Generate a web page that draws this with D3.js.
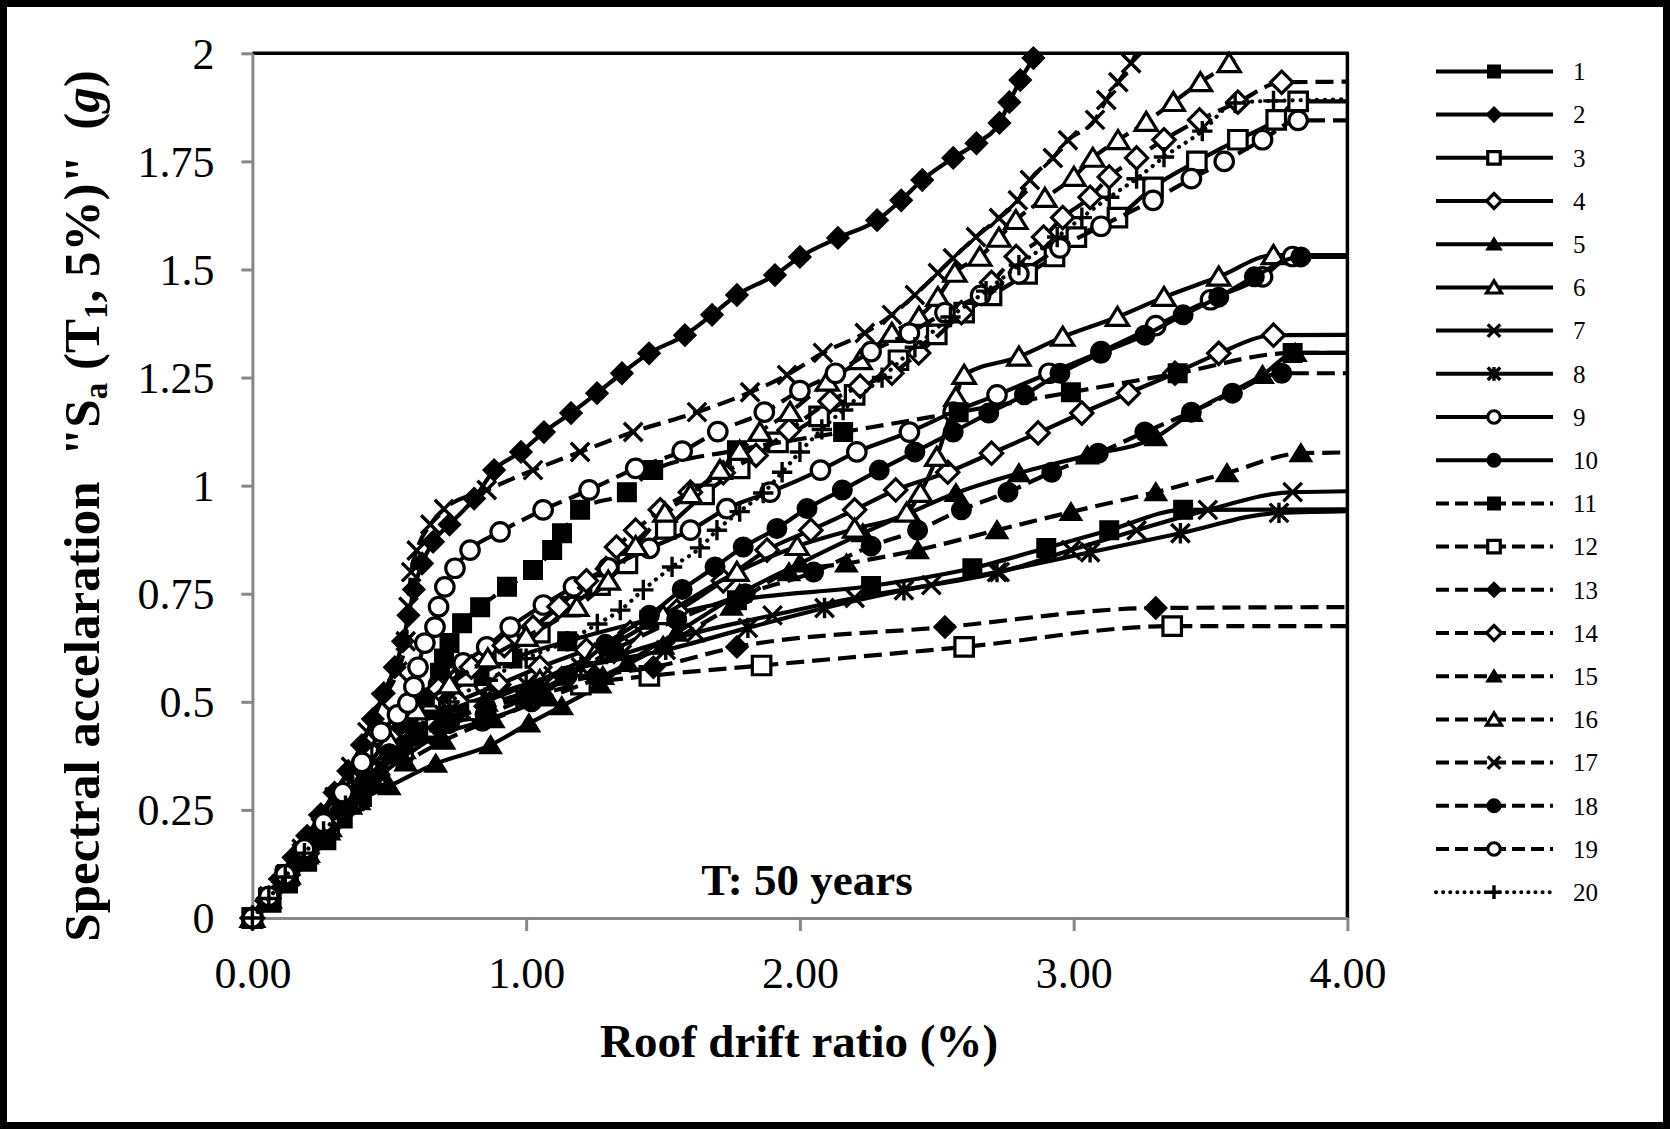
<!DOCTYPE html>
<html lang="en">
<head>
  <meta charset="UTF-8">
  <title>IDA curves</title>
  <script src="https://d3js.org/d3.v7.min.js"></script>
  <style>
    body { margin: 0; background: #fff; }
    text { font-family: "Liberation Serif", "Times New Roman", serif; fill: #000; }
  </style>
</head>
<body>
  <div id="chart"></div>

  <script>
    // record numbers and axis ticks
    const seriesNames = ["1","2","3","4","5","6","7","8","9","10","11","12","13","14","15","16","17","18","19","20"];
    const xTicks = [0, 1, 2, 3, 4];
    const yTicks = [0, 0.25, 0.5, 0.75, 1, 1.25, 1.5, 1.75, 2];

    // [roof drift ratio %, Sa g] per record
    const s1 = [[0,0],[0.07,0.035],[0.13,0.08],[0.2,0.13],[0.27,0.18],[0.33,0.23],[0.4,0.28],[0.46,0.33],[0.52,0.38],[0.58,0.42],[0.64,0.47],[0.72,0.52],[0.82,0.56],[0.95,0.6],[1.15,0.64],[1.45,0.69],[1.77,0.735],[2.26,0.768],[2.63,0.809],[2.9,0.856],[3.13,0.897],[3.4,0.944],[4.6,0.946]];
    const s2 = [[0,0],[0.05,0.04],[0.1,0.09],[0.15,0.14],[0.2,0.19],[0.25,0.24],[0.3,0.29],[0.35,0.34],[0.4,0.4],[0.44,0.46],[0.48,0.52],[0.52,0.58],[0.55,0.64],[0.57,0.7],[0.59,0.76],[0.62,0.82],[0.66,0.87],[0.72,0.91],[0.81,0.97],[0.883,1.036],[0.981,1.078],[1.065,1.124],[1.164,1.168],[1.259,1.214],[1.35,1.26],[1.449,1.306],[1.58,1.348],[1.679,1.395],[1.77,1.441],[1.909,1.487],[2.0,1.529],[2.139,1.573],[2.282,1.614],[2.37,1.66],[2.447,1.707],[2.56,1.758],[2.645,1.792],[2.729,1.839],[2.765,1.887],[2.805,1.938],[2.853,1.989],[2.9,2.05]];
    const s3 = [[0,0],[0.06,0.04],[0.12,0.09],[0.19,0.14],[0.26,0.2],[0.33,0.26],[0.4,0.32],[0.47,0.38],[0.55,0.44],[0.65,0.5],[0.78,0.56],[0.92,0.61],[1.05,0.66],[1.16,0.72],[1.27,0.77],[1.37,0.82],[1.51,0.9],[1.65,0.98],[1.78,1.04],[1.92,1.1],[2.07,1.16],[2.2,1.21],[2.36,1.29],[2.5,1.35],[2.6,1.4],[2.7,1.44],[2.83,1.49],[2.93,1.53],[3.01,1.575],[3.16,1.62],[3.29,1.69],[3.45,1.75],[3.6,1.8],[3.74,1.846],[3.82,1.889],[4.6,1.889]];
    const s4 = [[0,0],[0.06,0.045],[0.13,0.1],[0.2,0.15],[0.28,0.21],[0.36,0.27],[0.44,0.33],[0.52,0.39],[0.62,0.45],[0.75,0.5],[0.9,0.54],[1.05,0.58],[1.22,0.62],[1.38,0.66],[1.55,0.71],[1.72,0.78],[1.88,0.851],[2.04,0.897],[2.2,0.944],[2.35,0.99],[2.54,1.031],[2.7,1.075],[2.87,1.122],[3.03,1.168],[3.2,1.214],[3.37,1.26],[3.53,1.306],[3.73,1.348],[4.6,1.35]];
    const s5 = [[0,0],[0.06,0.04],[0.12,0.085],[0.18,0.13],[0.25,0.18],[0.32,0.23],[0.39,0.27],[0.5,0.305],[0.67,0.357],[0.87,0.4],[1.01,0.45],[1.13,0.49],[1.27,0.54],[1.37,0.59],[1.55,0.66],[1.78,0.75],[2.0,0.82],[2.23,0.89],[2.4,0.937],[2.57,0.983],[2.8,1.029],[3.05,1.07],[3.3,1.112],[3.43,1.168],[3.69,1.256],[3.81,1.307],[4.6,1.307]];
    const s6 = [[0,0],[0.06,0.045],[0.13,0.1],[0.2,0.15],[0.28,0.21],[0.36,0.27],[0.45,0.33],[0.55,0.39],[0.68,0.45],[0.85,0.5],[1.05,0.55],[1.25,0.61],[1.5,0.7],[1.77,0.8],[1.99,0.86],[2.2,0.9],[2.39,0.937],[2.44,0.983],[2.5,1.066],[2.57,1.205],[2.6,1.256],[2.8,1.298],[2.96,1.344],[3.16,1.39],[3.33,1.436],[3.53,1.483],[3.73,1.533],[4.6,1.533]];
    const s7 = [[0,0],[0.06,0.045],[0.12,0.09],[0.19,0.14],[0.26,0.2],[0.33,0.26],[0.4,0.32],[0.48,0.38],[0.58,0.43],[0.72,0.48],[0.9,0.52],[1.1,0.56],[1.35,0.61],[1.62,0.66],[1.9,0.7],[2.2,0.74],[2.48,0.77],[2.73,0.8],[2.99,0.851],[3.23,0.897],[3.49,0.944],[3.8,0.985],[4.6,0.99]];
    const s8 = [[0,0],[0.06,0.05],[0.12,0.1],[0.18,0.15],[0.25,0.21],[0.32,0.27],[0.4,0.33],[0.48,0.38],[0.58,0.43],[0.7,0.47],[0.85,0.51],[1.0,0.54],[1.2,0.58],[1.51,0.62],[1.81,0.671],[2.09,0.717],[2.38,0.758],[2.72,0.8],[3.06,0.846],[3.39,0.89],[3.75,0.937],[4.6,0.946]];
    const s9 = [[0,0],[0.06,0.045],[0.12,0.095],[0.19,0.15],[0.26,0.21],[0.34,0.28],[0.42,0.35],[0.5,0.42],[0.59,0.49],[0.68,0.54],[0.77,0.59],[0.856,0.627],[0.942,0.673],[1.063,0.724],[1.173,0.766],[1.3,0.81],[1.45,0.855],[1.6,0.897],[1.733,0.947],[1.891,0.985],[2.075,1.036],[2.208,1.078],[2.4,1.124],[2.56,1.17],[2.72,1.21],[2.91,1.26],[3.1,1.31],[3.3,1.37],[3.5,1.43],[3.69,1.483],[3.8,1.53],[4.6,1.53]];
    const s10 = [[0,0],[0.06,0.04],[0.13,0.09],[0.2,0.14],[0.28,0.2],[0.36,0.26],[0.45,0.32],[0.55,0.37],[0.67,0.42],[0.84,0.455],[1.02,0.5],[1.15,0.56],[1.29,0.633],[1.45,0.7],[1.57,0.76],[1.69,0.812],[1.793,0.858],[1.916,0.901],[2.026,0.947],[2.155,0.99],[2.29,1.036],[2.42,1.078],[2.56,1.124],[2.69,1.168],[2.82,1.21],[2.95,1.26],[3.1,1.306],[3.26,1.348],[3.4,1.395],[3.53,1.436],[3.66,1.483],[3.83,1.529],[4.6,1.53]];
    const s11 = [[0,0],[0.06,0.045],[0.12,0.095],[0.19,0.15],[0.26,0.21],[0.34,0.27],[0.42,0.33],[0.5,0.39],[0.57,0.45],[0.63,0.51],[0.685,0.567],[0.7,0.6],[0.72,0.636],[0.766,0.682],[0.832,0.719],[0.93,0.766],[1.025,0.805],[1.095,0.851],[1.131,0.89],[1.197,0.944],[1.368,0.985],[1.464,1.036],[1.77,1.082],[2.158,1.124],[2.58,1.17],[2.99,1.216],[3.38,1.26],[3.8,1.307],[4.6,1.307]];
    const s12 = [[0,0],[0.06,0.045],[0.13,0.1],[0.2,0.15],[0.28,0.21],[0.36,0.27],[0.45,0.33],[0.55,0.39],[0.67,0.44],[0.82,0.48],[1.0,0.51],[1.2,0.54],[1.45,0.56],[1.86,0.584],[2.6,0.627],[3.36,0.675],[4.6,0.675]];
    const s13 = [[0,0],[0.06,0.045],[0.13,0.1],[0.2,0.15],[0.28,0.21],[0.36,0.27],[0.45,0.33],[0.55,0.39],[0.68,0.44],[0.85,0.49],[1.05,0.53],[1.25,0.56],[1.465,0.58],[1.77,0.627],[2.53,0.673],[3.3,0.717],[4.6,0.72]];
    const s14 = [[0,0],[0.06,0.045],[0.12,0.095],[0.19,0.15],[0.26,0.21],[0.34,0.28],[0.42,0.35],[0.5,0.42],[0.58,0.48],[0.68,0.53],[0.8,0.58],[0.92,0.63],[1.025,0.673],[1.12,0.72],[1.22,0.78],[1.33,0.858],[1.4,0.897],[1.49,0.944],[1.6,0.985],[1.72,1.03],[1.84,1.07],[1.96,1.128],[2.11,1.195],[2.22,1.23],[2.336,1.26],[2.434,1.307],[2.59,1.4],[2.7,1.47],[2.79,1.53],[2.89,1.575],[2.96,1.62],[3.06,1.667],[3.13,1.714],[3.23,1.758],[3.33,1.8],[3.46,1.846],[3.6,1.887],[3.76,1.933],[4.6,1.936]];
    const s15 = [[0,0],[0.06,0.045],[0.13,0.095],[0.2,0.145],[0.28,0.2],[0.36,0.26],[0.45,0.31],[0.56,0.36],[0.7,0.41],[0.88,0.46],[1.08,0.51],[1.28,0.56],[1.5,0.63],[1.75,0.72],[1.96,0.8],[2.17,0.82],[2.43,0.851],[2.72,0.897],[2.99,0.939],[3.3,0.985],[3.56,1.029],[3.83,1.075],[4.6,1.08]];
    const s16 = [[0,0],[0.06,0.045],[0.12,0.095],[0.19,0.15],[0.26,0.21],[0.34,0.27],[0.42,0.34],[0.5,0.41],[0.6,0.48],[0.72,0.54],[0.86,0.6],[1.0,0.65],[1.185,0.719],[1.3,0.78],[1.4,0.86],[1.507,0.937],[1.6,0.98],[1.708,1.036],[1.78,1.08],[1.854,1.124],[1.964,1.17],[2.1,1.24],[2.22,1.29],[2.336,1.353],[2.435,1.39],[2.504,1.436],[2.566,1.492],[2.657,1.529],[2.727,1.573],[2.789,1.614],[2.895,1.665],[3.001,1.714],[3.07,1.758],[3.162,1.799],[3.265,1.841],[3.364,1.887],[3.463,1.933],[3.568,1.977],[3.68,2.04]];
    const s17 = [[0,0],[0.06,0.05],[0.12,0.1],[0.18,0.16],[0.24,0.22],[0.3,0.28],[0.36,0.35],[0.42,0.43],[0.47,0.5],[0.53,0.57],[0.56,0.64],[0.57,0.72],[0.58,0.8],[0.6,0.85],[0.65,0.91],[0.7,0.946],[0.856,0.99],[1.025,1.036],[1.197,1.078],[1.391,1.124],[1.624,1.17],[1.818,1.216],[1.953,1.256],[2.084,1.307],[2.237,1.353],[2.336,1.395],[2.42,1.441],[2.504,1.492],[2.559,1.526],[2.643,1.575],[2.727,1.619],[2.796,1.66],[2.84,1.707],[2.924,1.758],[2.979,1.799],[3.078,1.846],[3.119,1.892],[3.163,1.933],[3.21,1.977],[3.25,2.03]];
    const s18 = [[0,0],[0.06,0.045],[0.12,0.09],[0.19,0.14],[0.26,0.2],[0.34,0.26],[0.42,0.32],[0.5,0.38],[0.6,0.42],[0.72,0.45],[0.85,0.47],[1.0,0.51],[1.15,0.56],[1.32,0.62],[1.55,0.69],[1.8,0.75],[2.05,0.8],[2.26,0.86],[2.43,0.897],[2.59,0.944],[2.76,0.985],[2.92,1.031],[3.09,1.075],[3.26,1.124],[3.43,1.17],[3.58,1.214],[3.76,1.26],[4.6,1.26]];
    const s19 = [[0,0],[0.06,0.05],[0.12,0.1],[0.19,0.16],[0.26,0.22],[0.33,0.29],[0.4,0.36],[0.47,0.43],[0.53,0.47],[0.568,0.497],[0.59,0.535],[0.605,0.58],[0.63,0.636],[0.667,0.673],[0.68,0.72],[0.703,0.766],[0.74,0.809],[0.795,0.851],[0.905,0.893],[1.062,0.944],[1.23,0.99],[1.4,1.04],[1.57,1.08],[1.7,1.125],[1.87,1.17],[2.0,1.22],[2.13,1.26],[2.26,1.31],[2.4,1.353],[2.53,1.4],[2.66,1.44],[2.8,1.49],[2.95,1.55],[3.1,1.6],[3.29,1.66],[3.43,1.71],[3.55,1.75],[3.69,1.8],[3.82,1.845],[4.6,1.845]];
    const s20 = [[0,0],[0.06,0.045],[0.12,0.095],[0.19,0.15],[0.26,0.2],[0.34,0.26],[0.42,0.32],[0.5,0.38],[0.6,0.44],[0.72,0.5],[0.86,0.55],[1.0,0.6],[1.15,0.64],[1.26,0.68],[1.344,0.712],[1.428,0.759],[1.533,0.812],[1.635,0.856],[1.697,0.897],[1.78,0.94],[1.866,0.983],[1.935,1.031],[2.0,1.078],[2.08,1.13],[2.158,1.175],[2.3,1.25],[2.42,1.32],[2.55,1.39],[2.68,1.45],[2.8,1.51],[2.94,1.575],[3.03,1.62],[3.13,1.667],[3.23,1.71],[3.33,1.76],[3.47,1.82],[3.59,1.885],[3.73,1.89],[4.6,1.897]];

    const allSeries = [s1,s2,s3,s4,s5,s6,s7,s8,s9,s10,s11,s12,s13,s14,s15,s16,s17,s18,s19,s20];

    // marker / line look of each record
    const shapes = ["square","diamond","square","diamond","triangle","triangle","cross","star","circle","circle",
                    "square","square","diamond","diamond","triangle","triangle","cross","circle","circle","plus"];
    const filled = [1,1,0,0,1,0,0,0,0,1, 1,0,1,0,1,0,0,1,0,0];
    const dashes = d3.range(20).map(i => i < 10 ? "solid" : (i < 19 ? "dash" : "dot"));

    const W = 1670, H = 1129;
    const plot = {left: 252.4, right: 1347.4, top: 53.3, bottom: 918};

    const svg = d3.select("#chart").append("svg")
                  .attr("width", W).attr("height", H);

    svg.append("rect")
       .attr("x", 3.5).attr("y", 3.5)
       .attr("width", W - 7).attr("height", H - 7)
       .attr("fill", "#fff").attr("stroke", "#000").attr("stroke-width", 7);

    const x = d3.scaleLinear().domain([0, 4]).range([plot.left, plot.right]);
    const y = d3.scaleLinear().domain([0, 2]).range([plot.bottom, plot.top]);

    svg.append("clipPath").attr("id", "clip")
       .append("rect")
       .attr("x", plot.left).attr("y", plot.top)
       .attr("width", plot.right - plot.left).attr("height", plot.bottom - plot.top);

    // frame: black top/right, grey axes
    svg.append("line").attr("x1", plot.left).attr("x2", plot.right + 1.5)
       .attr("y1", plot.top).attr("y2", plot.top)
       .attr("stroke", "#000").attr("stroke-width", 3.5);
    svg.append("line").attr("x1", plot.right).attr("x2", plot.right)
       .attr("y1", plot.top).attr("y2", plot.bottom)
       .attr("stroke", "#000").attr("stroke-width", 3.5);

    const yAxis = svg.append("g")
       .attr("transform", `translate(${plot.left},0)`)
       .call(d3.axisLeft(y).tickValues(yTicks).tickSize(11).tickSizeOuter(0).tickFormat(d3.format("")));
    const xAxis = svg.append("g")
       .attr("transform", `translate(0,${plot.bottom})`)
       .call(d3.axisBottom(x).tickValues(xTicks).tickSize(13).tickSizeOuter(0).tickFormat(d3.format(".2f")));

    [xAxis, yAxis].forEach(a => {
      a.select(".domain").attr("stroke", "#888").attr("stroke-width", 3);
      a.selectAll(".tick line").attr("stroke", "#888").attr("stroke-width", 3);
      a.selectAll(".tick text")
       .attr("fill", "#000")
       .style("font-family", '"Liberation Serif", serif')
       .style("font-size", "44px");
    });
    yAxis.selectAll(".tick text").attr("x", -38).attr("dy", "0.34em");
    xAxis.selectAll(".tick text").attr("y", 39).attr("dy", "0.71em");

    function markerPath(shape, s) {
      const h = s / 2;
      switch (shape) {
        case "square":   return `M${-h},${-h}H${h}V${h}H${-h}Z`;
        case "diamond":  return `M0,${-h * 1.2}L${h * 1.2},0L0,${h * 1.2}L${-h * 1.2},0Z`;
        case "triangle": return `M0,${-h * 1.05}L${h * 1.2},${h * 0.9}L${-h * 1.2},${h * 0.9}Z`;
        case "cross":    return `M${-h},${-h}L${h},${h}M${-h},${h}L${h},${-h}`;
        case "star":     return `M${-h},${-h}L${h},${h}M${-h},${h}L${h},${-h}M0,${-h * 1.1}L0,${h * 1.1}`;
        case "plus":     return `M${-h * 1.1},0H${h * 1.1}M0,${-h * 1.1}V${h * 1.1}`;
      }
    }

    function addMarker(g, i, cx, cy, s) {
      const open = !filled[i];
      const lineOnly = ["cross", "star", "plus"].includes(shapes[i]);
      let m;
      if (shapes[i] === "circle") {
        m = g.append("circle").attr("r", s / 2 + (open ? 0 : 0.5));
      } else {
        m = g.append("path").attr("d", markerPath(shapes[i], s));
      }
      m.attr("transform", `translate(${cx},${cy})`)
       .attr("fill", lineOnly ? "none" : (open ? "#fff" : "#000"))
       .attr("stroke", "#000")
       .attr("stroke-width", lineOnly ? 3.4 : (open ? 3.2 : 1.5));
    }

    const line = d3.line()
                   .x(d => x(d[0]))
                   .y(d => y(d[1]))
                   .curve(d3.curveMonotoneX);

    allSeries.forEach((data, i) => {
      const g = svg.append("g").attr("class", "series");
      const p = g.append("path")
                 .datum(data)
                 .attr("clip-path", "url(#clip)")
                 .attr("fill", "none")
                 .attr("stroke", "#000")
                 .attr("stroke-width", 4.2)
                 .attr("d", line);
      if (dashes[i] === "dash") p.attr("stroke-dasharray", "18,8");
      if (dashes[i] === "dot") p.attr("stroke-dasharray", "0.1,8").attr("stroke-linecap", "round");
      data.filter(d => d[0] <= 4 && d[1] <= 2)
          .forEach(d => addMarker(g, i, x(d[0]), y(d[1]), 18.5));
    });

    // legend
    const legend = svg.append("g");
    seriesNames.forEach((name, i) => {
      const ly = 71.4 + i * 43.2;
      const l = legend.append("line")
                      .attr("x1", 1436).attr("x2", 1553)
                      .attr("y1", ly).attr("y2", ly)
                      .attr("stroke", "#000").attr("stroke-width", 4);
      if (dashes[i] === "dash") l.attr("stroke-dasharray", "13,6");
      if (dashes[i] === "dot") l.attr("stroke-dasharray", "0.1,7").attr("stroke-linecap", "round");
      addMarker(legend, i, 1494, ly, 12.5);
      legend.append("text")
            .attr("x", 1573).attr("y", ly)
            .attr("dy", "0.35em")
            .style("font-size", "25px")
            .text(name);
    });

    // annotation and axis titles
    svg.append("text")
       .attr("x", 807).attr("y", 895)
       .attr("text-anchor", "middle")
       .style("font-size", "45px").style("font-weight", "bold")
       .text("T: 50 years");

    svg.append("text")
       .attr("x", 799).attr("y", 1057)
       .attr("text-anchor", "middle")
       .style("font-size", "47px").style("font-weight", "bold")
       .text("Roof drift ratio (%)");

    const yl = svg.append("text")
       .attr("transform", "translate(99,506) rotate(-90)")
       .attr("text-anchor", "middle")
       .style("font-size", "51px").style("font-weight", "bold")
       .style("white-space", "pre");
    yl.append("tspan").text('Spectral accelaration  "S');
    yl.append("tspan").attr("baseline-shift", "-0.25em").style("font-size", "33px").text("a");
    yl.append("tspan").text(" (T");
    yl.append("tspan").attr("baseline-shift", "-0.25em").style("font-size", "33px").text("1");
    yl.append("tspan").text(', 5%)"  (');
    yl.append("tspan").style("font-style", "italic").text("g");
    yl.append("tspan").text(")");
  </script>
</body>
</html>
